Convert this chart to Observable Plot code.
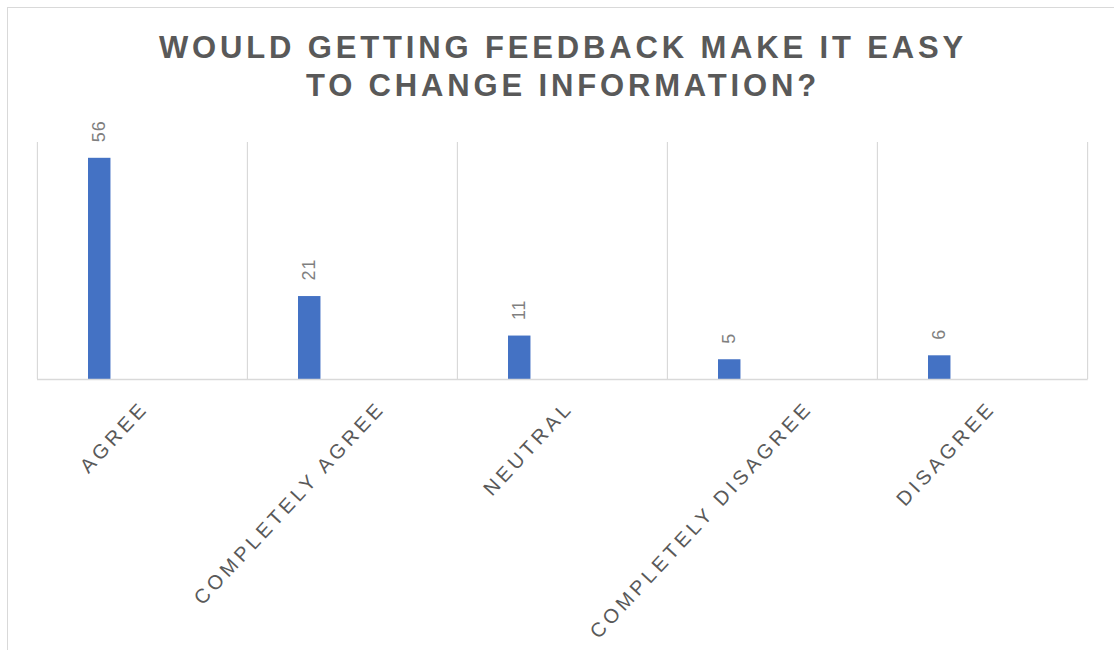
<!DOCTYPE html>
<html><head><meta charset="utf-8">
<script src="https://cdn.jsdelivr.net/npm/d3@7"></script>
<script src="https://cdn.jsdelivr.net/npm/@observablehq/plot@0.6"></script>
<style>
html,body{margin:0;padding:0;background:#fff;overflow:hidden;width:1114px;height:650px}
#frame{position:absolute;left:7px;top:7px;width:1300px;height:900px;border-left:1.5px solid #d9d9d9;border-top:1.5px solid #d9d9d9;pointer-events:none}
#title{height:120px;box-sizing:border-box;padding-top:29px;padding-left:12px;text-align:center;font-family:"Liberation Sans",Arial,Helvetica,sans-serif;font-weight:bold;font-size:31px;line-height:38px;letter-spacing:3.85px;color:#595959}
#chart svg g[aria-label="x-axis tick label"] text{letter-spacing:3.9px}
#chart svg g[aria-label="text"] text{letter-spacing:1px}
</style>
</head><body>
<div id="frame"></div>
<div id="title">WOULD GETTING FEEDBACK MAKE IT EASY<br>TO CHANGE INFORMATION?</div>
<div id="chart"></div>
<script>
const categories = ["AGREE", "COMPLETELY AGREE", "NEUTRAL", "COMPLETELY DISAGREE", "DISAGREE"];
const values = [56, 21, 11, 5, 6];
const yDomain = [0, 60];

const data = categories.map((c, i) => ({category: c, value: values[i]}));
const W = 1114, ML = 37, MR = 26.3;
const bw = (W - ML - MR) / categories.length;

const chart = Plot.plot({
  width: W,
  height: 530,
  marginTop: 22,
  marginBottom: 271,
  marginLeft: ML,
  marginRight: MR,
  x: {domain: categories, padding: 0, label: null},
  y: {domain: yDomain, axis: null},
  style: {fontFamily: '"Liberation Sans", Arial, Helvetica, sans-serif', background: "transparent", overflow: "visible"},
  marks: [
    Plot.ruleX(categories, {x: d => d, dx: -bw / 2, stroke: "#d9d9d9", strokeWidth: 1.2}),
    Plot.ruleX([categories[categories.length - 1]], {x: d => d, dx: bw / 2, stroke: "#d9d9d9", strokeWidth: 1.2}),
    Plot.barY(data, {x: "category", y: "value", fill: "#4472c4", insetLeft: 51, insetRight: bw - 73.6}),
    Plot.ruleY([0], {stroke: "#d9d9d9", strokeWidth: 1.6}),
    Plot.text(data, {x: "category", y: "value", text: d => String(d.value), rotate: -90, textAnchor: "start", lineAnchor: "middle", dy: -16, dx: 62.3 - bw / 2, fontSize: 18, fill: "#7f7f7f"}),
    ...categories.map(c => Plot.axisX([c], {tickSize: 0, tickPadding: 25, dx: 2.45 * c.length - 10, tickRotate: -47, fontSize: 20, fill: "#595959", label: null}))
  ]
});
document.getElementById("chart").appendChild(chart);
</script>
</body></html>
